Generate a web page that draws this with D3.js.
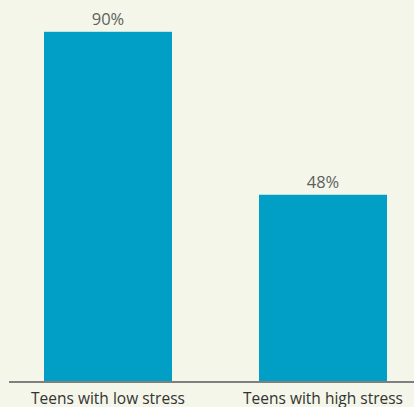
<!DOCTYPE html>
<html><head><meta charset="utf-8">
<script src="https://cdn.jsdelivr.net/npm/d3@7"></script>
<style>html,body{margin:0;padding:0;background:#f3f6e9;}svg{display:block;}</style>
</head><body>
<script>
const categories = ["Teens with low stress", "Teens with high stress"];
const values = [90, 48];
const valueLabels = ["90%", "48%"];

const W = 414, H = 407;
const svg = d3.select("body").append("svg").attr("width", W).attr("height", H);
svg.append("rect").attr("width", W).attr("height", H).attr("fill", "#f3f6e9");

const baseY = 381;
const x = d3.scaleBand().domain(categories).range([1, 430]).paddingInner(0.4047).paddingOuter(0.2);
const y = d3.scaleLinear().domain([0, 100]).range([baseY, baseY - 388]);

svg.selectAll("rect.bar").data(values).enter().append("rect")
  .attr("class", "bar")
  .attr("x", (d, i) => x(categories[i]))
  .attr("width", x.bandwidth())
  .attr("y", d => y(d))
  .attr("height", d => baseY - y(d))
  .attr("fill", "#019fc5");

svg.selectAll("text.val").data(values).enter().append("text")
  .attr("class", "val")
  .attr("x", (d, i) => x(categories[i]) + x.bandwidth() / 2)
  .attr("y", d => y(d) - 7)
  .attr("text-anchor", "middle")
  .attr("font-family", "Open Sans, sans-serif")
  .attr("font-size", 16.5)
  .attr("fill", "#5f5f5f")
  .text((d, i) => valueLabels[i]);

svg.append("line").attr("x1", 9).attr("x2", W).attr("y1", baseY + 1).attr("y2", baseY + 1)
  .attr("stroke", "#7f7f7f").attr("stroke-width", 2);

svg.selectAll("text.cat").data(categories).enter().append("text")
  .attr("class", "cat")
  .attr("x", d => x(d) + x.bandwidth() / 2)
  .attr("y", 404)
  .attr("text-anchor", "middle")
  .attr("font-family", "Open Sans, sans-serif")
  .attr("font-size", 15.5)
  .attr("fill", "#333")
  .text(d => d);
</script>
</body></html>
